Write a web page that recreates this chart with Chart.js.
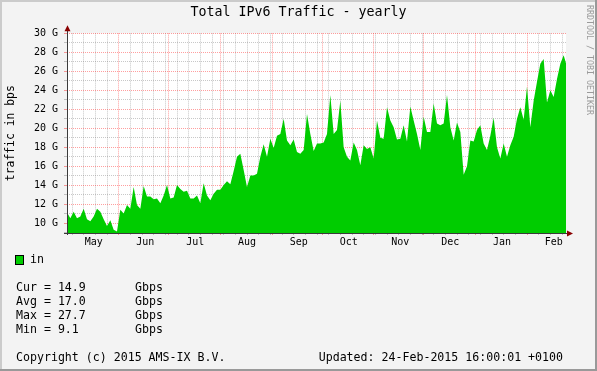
<!DOCTYPE html>
<html>
<head>
<meta charset="utf-8">
<title>Total IPv6 Traffic - yearly</title>
<script src="https://cdn.jsdelivr.net/npm/chart.js@4.4.1/dist/chart.umd.min.js"></script>
<style>
  html, body { margin: 0; padding: 0; background: #f3f3f3; }
  canvas { display: block; }
</style>
</head>
<body>
<canvas id="trafficChart" width="597" height="371"></canvas>
<script>
// ================================
// DATA
// ================================
const sampleStepDays = 2;       // one reading every 2 days, starting May 1 2014
const windowDays = 299.4;       // May 1 2014 -> Feb 24 2015 16:00

// "in" traffic in Gbit/s
const inTraffic = [
  11.1, 10.5, 11.2, 10.5, 10.7, 11.5, 10.4, 10.2, 10.7, 11.5,
  11.2, 10.4, 9.7, 10.3, 9.3, 9.1, 11.4, 11.0, 11.9, 11.5,
  13.8, 11.9, 11.5, 13.9, 12.8, 12.8, 12.5, 12.6, 12.1, 12.9,
  14.0, 12.6, 12.7, 14.0, 13.6, 13.3, 13.4, 12.6, 12.6, 12.9,
  12.1, 14.2, 12.9, 12.4, 13.1, 13.5, 13.5, 14.0, 14.4, 14.1,
  15.5, 17.0, 17.3, 15.6, 13.8, 15.0, 15.0, 15.2, 17.0, 18.3,
  17.0, 18.9, 17.9, 19.2, 19.4, 21.0, 18.7, 18.2, 18.8, 17.5,
  17.3, 17.7, 21.5, 19.4, 17.6, 18.4, 18.4, 18.5, 19.4, 23.5,
  19.4, 19.8, 22.9, 18.0, 17.0, 16.6, 18.5, 17.7, 16.1, 18.2,
  17.8, 18.0, 16.8, 20.8, 19.0, 18.9, 22.2, 20.8, 20.1, 18.8,
  18.9, 20.3, 18.6, 22.3, 20.8, 19.4, 17.7, 21.2, 19.6, 19.6,
  22.6, 20.5, 20.3, 20.5, 23.5, 20.1, 18.7, 20.6, 19.6, 15.1,
  16.0, 18.7, 18.6, 19.8, 20.3, 18.4, 17.7, 19.2, 21.1, 18.0,
  16.8, 18.4, 17.0, 18.2, 19.1, 21.0, 22.2, 20.9, 24.4, 20.1,
  22.9, 24.9, 26.8, 27.3, 22.7, 24.0, 23.3, 25.2, 26.8, 27.7,
  26.5
];

// x axis: month starts (days since May 1) and their labels
const monthLabels = ["May", "Jun", "Jul", "Aug", "Sep", "Oct", "Nov", "Dec", "Jan", "Feb"];
const monthStartDays = [0, 31, 61, 92, 123, 153, 184, 214, 245, 276];
const firstSundayDay = 3;

// y axis
const yMin = 8.95;
const yMax = 30;
const yUnit = "G";

// legend block
const seriesName = "in";
const statNames = ["Cur", "Avg", "Max", "Min"];
const statValues = ["14.9", "17.0", "27.7", "9.1"];
const statUnit = "Gbps";

const GREEN = "#00CC00";
const MAJOR = "rgba(255, 0, 0, 0.38)";
const MINOR = "rgba(110, 110, 110, 0.38)";
const MONO = "'DejaVu Sans Mono', monospace";

// weekly (Sunday) grid lines + month starts
const gridDays = [...monthStartDays];
for (let d = firstSundayDay; d < windowDays; d += 7) {
  if (!gridDays.includes(d)) gridDays.push(d);
}
gridDays.sort((a, b) => a - b);

const yGrid = [];
for (let v = Math.ceil(yMin); v <= yMax; v++) yGrid.push(v);

// ================================
// RRDTOOL LOOK (frame, axes, legend)
// ================================
const rrdFrame = {
  id: "rrdFrame",
  beforeDraw(chart) {
    const { ctx, chartArea: a, width, height } = chart;
    ctx.save();
    ctx.fillStyle = "#f3f3f3";
    ctx.fillRect(0, 0, width, height);
    ctx.fillStyle = "#ffffff";
    ctx.fillRect(a.left, a.top, a.right - a.left, a.bottom - a.top);
    ctx.restore();
  },
  afterDraw(chart) {
    const { ctx, chartArea: a, width, height } = chart;
    ctx.save();

    // axes + arrows
    ctx.strokeStyle = "#3a3a3a";
    ctx.lineWidth = 1;
    ctx.beginPath();
    ctx.moveTo(a.left + 0.5, a.bottom + 2);
    ctx.lineTo(a.left + 0.5, a.top - 4);
    ctx.moveTo(a.left - 3, a.bottom + 0.5);
    ctx.lineTo(a.right + 3, a.bottom + 0.5);
    ctx.stroke();

    ctx.fillStyle = "#8a0000";
    ctx.beginPath();
    ctx.moveTo(a.left + 0.5, a.top - 8);
    ctx.lineTo(a.left - 2.5, a.top - 2);
    ctx.lineTo(a.left + 3.5, a.top - 2);
    ctx.closePath();
    ctx.fill();
    ctx.beginPath();
    ctx.moveTo(a.right + 7, a.bottom + 0.5);
    ctx.lineTo(a.right + 1, a.bottom - 2.5);
    ctx.lineTo(a.right + 1, a.bottom + 3.5);
    ctx.closePath();
    ctx.fill();

    // legend
    ctx.fillStyle = GREEN;
    ctx.fillRect(15, 255, 8, 9);
    ctx.strokeStyle = "#000";
    ctx.strokeRect(15.5, 255.5, 8, 9);

    ctx.font = "11.6px " + MONO;
    ctx.fillStyle = "#000";
    ctx.textBaseline = "middle";
    ctx.textAlign = "left";
    ctx.fillText(seriesName, 30, 259.5);

    statNames.forEach((name, i) => {
      const y = 288 + i * 14;
      ctx.fillText(`${name} = ${statValues[i]}`, 16, y);
      ctx.fillText(statUnit, 135, y);
    });

    ctx.fillText("Copyright (c) 2015 AMS-IX B.V.", 16, 358);
    ctx.textAlign = "right";
    ctx.fillText("Updated: 24-Feb-2015 16:00:01 +0100", 563, 358);

    // watermark
    ctx.translate(589, 5);
    ctx.rotate(Math.PI / 2);
    ctx.font = "8.3px " + MONO;
    ctx.fillStyle = "#9a9a9a";
    ctx.textAlign = "left";
    ctx.fillText("RRDTOOL / TOBI OETIKER", 0, 0);
    ctx.restore();

    // frame
    ctx.save();
    ctx.fillStyle = "#cbcbcb";
    ctx.fillRect(0, 0, width, 2);
    ctx.fillRect(0, 0, 2, height);
    ctx.fillStyle = "#999999";
    ctx.fillRect(0, height - 2, width, 2);
    ctx.fillRect(width - 2, 0, 2, height);
    ctx.restore();
  }
};

// ================================
// CHART
// ================================
new Chart(document.getElementById("trafficChart"), {
  type: "line",
  data: {
    datasets: [{
      label: seriesName,
      data: inTraffic.map((v, i) => ({ x: i * sampleStepDays, y: v })),
      fill: "start",
      backgroundColor: GREEN,
      borderColor: "rgba(0,0,0,0)",
      borderWidth: 0,
      pointRadius: 0,
      tension: 0
    }]
  },
  options: {
    responsive: false,
    animation: false,
    devicePixelRatio: 1,
    layout: { padding: { left: 0, right: 0, top: 0, bottom: 120 } },
    plugins: {
      legend: { display: false },
      tooltip: { enabled: false },
      title: {
        display: true,
        text: "Total IPv6 Traffic - yearly",
        color: "#000",
        font: { family: MONO, size: 13.3, weight: "normal" },
        padding: { top: 5, bottom: 12.4 }
      }
    },
    scales: {
      x: {
        type: "linear",
        position: "bottom",
        min: 0,
        max: windowDays,
        z: 1,
        afterBuildTicks: s => { s.ticks = gridDays.map(d => ({ value: d })); },
        afterFit: s => { s.height = 0; },
        ticks: { display: false, autoSkip: false },
        border: { display: false, dash: [1, 1] },
        grid: {
          color: c => monthStartDays.includes(c.tick.value) ? MAJOR : MINOR,
          lineWidth: 1,
          drawTicks: true,
          tickLength: 2
        }
      },
      x2: {
        type: "linear",
        position: "bottom",
        min: 0,
        max: windowDays,
        afterBuildTicks: s => { s.ticks = monthStartDays.map(d => ({ value: d + 16 })); },
        afterFit: s => { s.height = 18; },
        ticks: {
          autoSkip: false,
          maxRotation: 0,
          padding: 3,
          color: "#000",
          font: { family: MONO, size: 10 },
          callback: (v, i) => monthLabels[i]
        },
        border: { display: false },
        grid: { display: false, drawTicks: false }
      },
      y: {
        min: yMin,
        max: yMax,
        z: 1,
        afterBuildTicks: s => { s.ticks = yGrid.map(v => ({ value: v })); },
        afterFit: s => { s.width = 67; },
        ticks: {
          autoSkip: false,
          padding: 6,
          color: "#000",
          font: { family: MONO, size: 10 },
          callback: v => (v % 2 === 0 ? `${v} ${yUnit}` : "")
        },
        border: { display: false, dash: [1, 1] },
        grid: {
          color: c => (c.tick.value % 2 === 0 ? MAJOR : MINOR),
          lineWidth: 1,
          tickLength: 3
        },
        title: {
          display: true,
          text: "traffic in bps",
          color: "#000",
          font: { family: MONO, size: 11.4 },
          padding: { top: 4, bottom: 0 }
        }
      },
      // empty right-hand margin so the title centres on the whole image
      yRight: {
        position: "right",
        min: yMin,
        max: yMax,
        afterFit: s => { s.width = 31; },
        ticks: { display: false },
        border: { display: false },
        grid: { display: false, drawTicks: false }
      }
    }
  },
  plugins: [rrdFrame]
});
</script>
</body>
</html>
